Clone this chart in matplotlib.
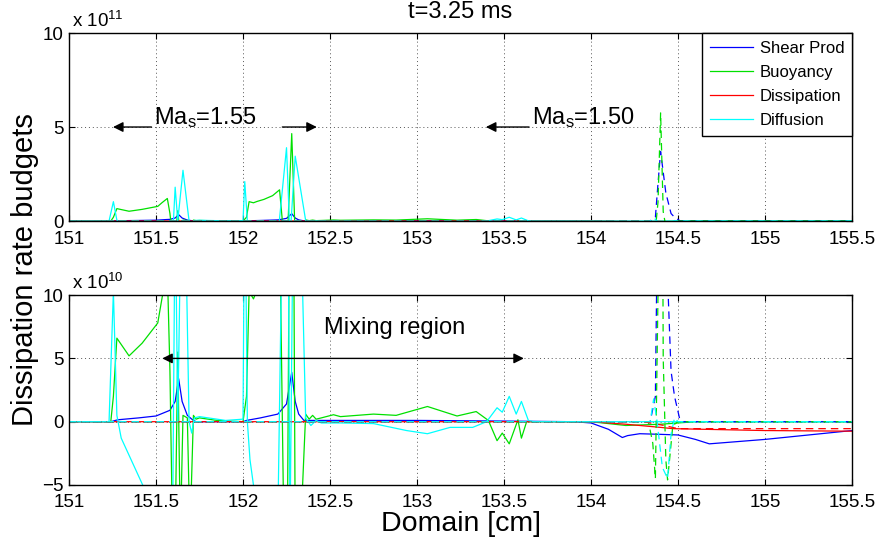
import matplotlib
matplotlib.use("Agg")
import matplotlib.pyplot as plt
from matplotlib.ticker import FuncFormatter

plt.rcParams['font.family'] = ['Liberation Sans', 'DejaVu Sans']
plt.rcParams['mathtext.fontset'] = 'custom'
plt.rcParams['mathtext.rm'] = 'Liberation Sans'
plt.rcParams['mathtext.it'] = 'Liberation Sans'
plt.rcParams['mathtext.default'] = 'regular'

SCALE = 1e10  # budget values below are given in units of 1e10

# ---- solid curves ----
shear_x = [151.0, 151.24, 151.28, 151.40, 151.50, 151.58, 151.61, 151.63, 151.65, 151.68,
           151.71, 151.73, 152.0, 152.02, 152.10, 152.20, 152.25, 152.28, 152.30, 152.32,
           152.35, 152.6, 153.0, 153.5, 153.9, 154.0, 154.10, 154.18, 154.21, 154.28,
           154.40, 154.50, 154.60, 154.68, 155.0, 155.5]
shear_y = [0.0, 0.0, 0.15, 0.3, 0.45, 0.9, 1.6, 3.4, 1.6, 0.5,
           0.15, 0.0, 0.0, 0.1, 0.3, 0.6, 1.4, 3.9, 1.6, 0.6,
           0.1, 0.1, 0.1, 0.05, 0.0, -0.1, -0.6, -1.25, -1.1, -0.95,
           -1.0, -1.05, -1.4, -1.75, -1.4, -0.7]

buoy_x = [151.0, 151.24, 151.255, 151.275, 151.345, 151.42, 151.51, 151.535, 151.565, 151.58,
          151.595, 151.61, 151.625, 151.64, 151.655, 151.68, 151.695, 151.715, 151.73, 151.75,
          151.85, 152.0, 152.02, 152.035, 152.06, 152.08, 152.12, 152.17, 152.21, 152.235,
          152.255, 152.28, 152.30, 152.33, 152.36, 152.38, 152.40, 152.42, 152.45, 152.52,
          152.56, 152.75, 152.88, 153.06, 153.23, 153.34, 153.41, 153.46, 153.49, 153.53,
          153.58, 153.60, 153.63, 154.0, 154.2, 154.4, 154.6, 155.5]
buoy_y = [0.0, 0.0, 2.0, 6.6, 5.2, 6.2, 7.8, 9.8, 12.0, 4.0,
          -9.0, -9.0, 5.5, -9.0, 0.5, 0.3, -9.0, 0.5, 0.2, 0.3,
          0.1, 0.0, 2.0, 10.3, 9.7, 10.4, 11.5, 13.5, 16.6, -9.0,
          -9.0, 46.5, -9.0, -9.0, 0.6, 0.2, 0.5, 0.2, 0.3, 0.55,
          0.4, 0.6, 0.5, 1.2, 0.45, 0.8, 0.1, -1.5, -0.9, -1.75,
          0.15, -1.3, 0.0, 0.0, -0.3, -0.2, 0.0, 0.0]

diss_x = [151.0, 154.0, 154.2, 154.4, 154.47, 155.0, 155.5]
diss_y = [0.0, 0.0, -0.2, -0.45, -0.55, -0.7, -0.75]

diff_x = [151.0, 151.23, 151.255, 151.275, 151.30, 151.44, 151.55, 151.595, 151.61, 151.625,
          151.655, 151.69, 151.705, 151.72, 151.75, 151.9, 152.0, 152.01, 152.025, 152.04,
          152.07, 152.2, 152.25, 152.27, 152.30, 152.36, 152.39, 152.42, 152.45, 152.56,
          152.75, 152.94, 153.06, 153.19, 153.32, 153.40, 153.46, 153.49, 153.53, 153.57,
          153.60, 153.64, 153.67, 155.5]
diff_y = [0.0, 0.0, 10.3, 0.5, -1.3, -5.5, -8.0, -9.0, 18.0, 0.0,
          27.0, 0.0, -0.9, 0.3, 0.4, 0.1, 0.2, 21.0, 0.0, -3.0,
          -6.0, -8.0, 39.0, -9.0, 34.5, 0.3, -0.3, 0.1, -0.1, -0.1,
          -0.15, -0.7, -0.95, -0.45, -0.45, 0.0, 1.1, 0.75, 2.0, 0.6,
          1.6, 0.1, 0.0, 0.0]

# ---- dashed curves ----
shear2_x = [151.0, 154.34, 154.37, 154.385, 154.40, 154.43, 154.46, 154.48, 154.51, 154.53, 155.5]
shear2_y = [0.0, 0.0, 2.0, 20.0, 37.0, 15.0, 4.0, 2.0, 0.2, 0.0, 0.0]

buoy2_x = [151.0, 154.33, 154.355, 154.37, 154.385, 154.40, 154.415, 154.43, 154.44, 154.455, 154.47, 154.50, 155.5]
buoy2_y = [0.0, 0.0, -1.7, -4.5, 10.0, 57.5, 5.0, -3.0, -4.6, -2.5, -0.3, 0.0, 0.0]

diss2_x = [151.0, 154.30, 154.42, 154.50, 155.5]
diss2_y = [0.0, 0.0, -0.3, -0.55, -0.55]

diff2_x = [151.0, 154.34, 154.36, 154.38, 154.41, 154.44, 154.46, 154.48, 154.50, 155.5]
diff2_y = [0.0, 0.0, 1.8, 0.0, -3.6, -4.5, -1.0, 0.3, 0.0, 0.0]

labels = ['Shear Prod', 'Buoyancy', 'Dissipation', 'Diffusion']
colors = ['#0000ff', '#00e000', '#ff0000', '#00ffff']
solid = [(shear_x, shear_y), (buoy_x, buoy_y), (diss_x, diss_y), (diff_x, diff_y)]
dashed = [(shear2_x, shear2_y), (buoy2_x, buoy2_y), (diss2_x, diss2_y), (diff2_x, diff2_y)]

x_ticks = [151, 151.5, 152, 152.5, 153, 153.5, 154, 154.5, 155, 155.5]

fig = plt.figure(figsize=(8.77, 5.44), dpi=100)
ax1 = fig.add_axes([0.0787, 0.5937, 0.8928, 0.3456])
ax2 = fig.add_axes([0.0787, 0.1085, 0.8928, 0.3490])


def draw(ax, exp, xpad):
    handles = []
    for (x, y), c, lab in zip(solid, colors, labels):
        h, = ax.plot(x, [v * SCALE for v in y], color=c, lw=0.9, label=lab)
        handles.append(h)
    for (x, y), c in zip(dashed, colors):
        ax.plot(x, [v * SCALE for v in y], color=c, lw=0.9, ls=(0, (6, 4)))
    ax.set_xlim(151, 155.5)
    ax.set_xticks(x_ticks)
    ax.set_xticklabels([f'{t:g}' for t in x_ticks])
    ax.yaxis.set_major_formatter(FuncFormatter(lambda v, p: f'{v / 10**exp:g}'.replace('-', '\u2212')))
    ax.grid(True, ls=(0, (1, 3)), color='#555555', lw=0.7)
    ax.tick_params(direction='in', top=True, right=True, labelsize=13.5, length=4, width=0.8)
    ax.tick_params(axis='x', pad=xpad)
    ax.tick_params(axis='y', pad=4)
    for s in ax.spines.values():
        s.set_linewidth(1.0)
        s.set_color('black')
    ax.text(0.004, 1.012, r'x 10$^{%d}$' % exp, transform=ax.transAxes,
            fontsize=13.5, ha='left', va='bottom')
    return handles


hs = draw(ax1, 11, 7)
ax1.set_ylim(0, 1e12)
ax1.set_yticks([0, 5e11, 1e12])
ax1.set_title('t=3.25 ms', fontsize=17, pad=11)
leg = ax1.legend(handles=hs, loc='upper right', fontsize=12, frameon=True, fancybox=False,
                 edgecolor='black', framealpha=1, handlelength=2.6, handletextpad=0.4,
                 borderaxespad=0.0, labelspacing=0.55, borderpad=0.45)
leg.get_frame().set_linewidth(1.0)

arrow = dict(arrowstyle='-|>', color='black', lw=1.0, mutation_scale=15)
ax1.annotate('', xy=(151.237, 5e11), xytext=(151.49, 5e11), arrowprops=arrow)
ax1.annotate('', xy=(152.44, 5e11), xytext=(152.21, 5e11), arrowprops=arrow)
ax1.text(151.49, 5.5e11, 'Ma$_s$=1.55', fontsize=17, ha='left', va='center')
ax1.annotate('', xy=(153.38, 5e11), xytext=(153.66, 5e11), arrowprops=arrow)
ax1.text(153.66, 5.5e11, 'Ma$_s$=1.50', fontsize=17, ha='left', va='center')

draw(ax2, 10, 6.5)
ax2.set_ylim(-5e10, 1e11)
ax2.set_yticks([-5e10, 0, 5e10, 1e11])
ax2.annotate('', xy=(151.52, 5e10), xytext=(153.63, 5e10),
             arrowprops=dict(arrowstyle='<|-|>', color='black', lw=1.0, mutation_scale=15))
ax2.text(152.87, 7.4e10, 'Mixing region', fontsize=17, ha='center', va='center')
ax2.set_xlabel('Domain [cm]', fontsize=20.5, labelpad=0)

fig.text(0.029, 0.505, 'Dissipation rate budgets', rotation=90, fontsize=21,
         ha='center', va='center')

fig.savefig('out.png', dpi=100)
